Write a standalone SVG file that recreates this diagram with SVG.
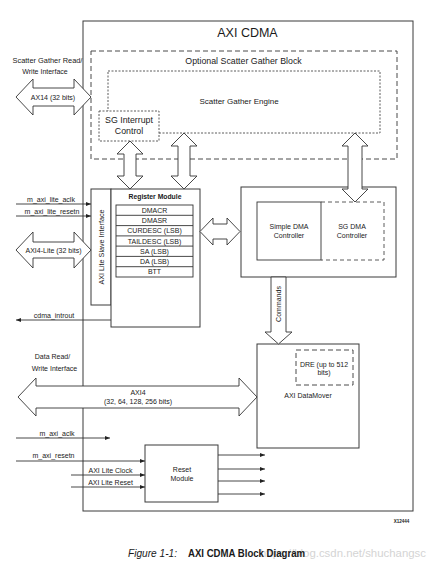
<svg xmlns="http://www.w3.org/2000/svg" width="441" height="565" viewBox="0 0 441 565">
<defs>
<style>
text{font-family:"Liberation Sans",Arial,sans-serif;fill:#1a1a1a}
.t7{font-size:7px}
.box{fill:#fff;stroke:#3a3a3a;stroke-width:1}
.dash{fill:none;stroke:#4a4a4a;stroke-width:1;stroke-dasharray:5,3}
.dot{fill:none;stroke:#4a4a4a;stroke-width:0.9;stroke-dasharray:2,1.5}
.arr{fill:#fff;stroke:#333;stroke-width:0.9;stroke-linejoin:miter}
.ln{fill:none;stroke:#333;stroke-width:0.9}
.m{text-anchor:middle}
</style>
<marker id="ah" markerUnits="userSpaceOnUse" markerWidth="6" markerHeight="4" refX="5" refY="2" orient="auto">
<path d="M0,0 L5,2 L0,4 Z" fill="#222"/>
</marker>
</defs>
<rect width="441" height="565" fill="#fff"/>

<g id="cdma">
<rect class="box" x="83" y="21" width="330" height="490" fill="none"/>
<text x="247.5" y="36.5" class="m" style="font-size:12.5px">AXI CDMA</text>
</g>

<g id="sg-block">
<rect class="dash" x="91" y="51" width="306" height="108"/>
<text x="243.5" y="63.5" class="m" style="font-size:8.8px">Optional Scatter Gather Block</text>
</g>

<g id="sg-engine">
<rect class="dot" x="108" y="71" width="272" height="62"/>
<text x="239" y="104" class="m" style="font-size:8px">Scatter Gather Engine</text>
</g>

<g id="sg-interrupt">
<rect x="99" y="111" width="60" height="30" fill="#fff" stroke="#4a4a4a" stroke-width="0.9" stroke-dasharray="2,1.5"/>
<text x="129" y="123" class="m" style="font-size:8.8px">SG Interrupt</text>
<text x="129" y="134" class="m" style="font-size:8.8px">Control</text>
</g>

<g id="slave-if">
<rect class="box" x="91" y="189" width="20" height="116"/>
<text transform="translate(103.5,247) rotate(-90)" class="m" style="font-size:7.2px">AXI Lite Slave Interface</text>
</g>

<g id="register-module">
<rect class="box" x="111" y="189" width="89" height="138"/>
<text x="155" y="198.5" class="m" style="font-size:6.8px;font-weight:bold">Register Module</text>
<rect x="116" y="205" width="77" height="72" fill="#fff" stroke="#333" stroke-width="0.9"/>
<path class="ln" d="M116,215.3H193M116,225.6H193M116,235.9H193M116,246.1H193M116,256.4H193M116,266.7H193"/>
<text x="154.5" y="212.6" class="m t7">DMACR</text>
<text x="154.5" y="222.9" class="m t7">DMASR</text>
<text x="154.5" y="233.2" class="m t7">CURDESC (LSB)</text>
<text x="154.5" y="243.5" class="m t7">TAILDESC (LSB)</text>
<text x="154.5" y="253.8" class="m t7">SA (LSB)</text>
<text x="154.5" y="264.1" class="m t7">DA (LSB)</text>
<text x="154.5" y="274.4" class="m t7">BTT</text>
</g>

<g id="dma-controller">
<rect class="box" x="241" y="187" width="155" height="90"/>
<rect x="257" y="202" width="64" height="58" fill="none" stroke="#333" stroke-width="0.9"/>
<path d="M321,202H384V260H321" fill="none" stroke="#4a4a4a" stroke-width="0.9" stroke-dasharray="4,3"/>
<text x="289" y="229" class="m t7">Simple DMA</text>
<text x="289" y="238" class="m t7">Controller</text>
<text x="352" y="229" class="m t7">SG DMA</text>
<text x="352" y="238" class="m t7">Controller</text>
</g>

<g id="datamover">
<rect class="box" x="257" y="344" width="102" height="104"/>
<rect class="dash" x="296" y="350" width="57" height="35"/>
<text x="324" y="367" class="m t7">DRE (up to 512</text>
<text x="324" y="374.5" class="m t7">bits)</text>
<text x="308" y="398" class="m t7">AXI DataMover</text>
</g>

<g id="reset-module">
<rect class="box" x="145" y="445" width="73" height="57"/>
<text x="182" y="472" class="m t7">Reset</text>
<text x="182" y="481" class="m t7">Module</text>
</g>

<g id="connectors">
<path class="arr" d="M16,97 L33,79 L33,88 L74,88 L74,79 L91,97 L74,115 L74,106 L33,106 L33,115 Z"/>
<path class="arr" d="M16,250 L33,232 L33,242 L74,242 L74,232 L91,250 L74,268 L74,258 L33,258 L33,268 Z"/>
<path class="arr" d="M200,231.5 L213,218 L213,224 L227,224 L227,218 L240,231.5 L227,245 L227,239 L213,239 L213,245 Z"/>
<path class="arr" d="M18,397 L36,378 L36,386 L239,386 L239,378 L257,397 L239,416 L239,408 L36,408 L36,416 Z"/>
<path class="arr" d="M130,141 L143,154 L136,154 L136,176 L143,176 L130,189 L117,176 L124,176 L124,154 L117,154 Z"/>
<path class="arr" d="M184,133 L197,146 L190,146 L190,176 L197,176 L184,189 L171,176 L178,176 L178,146 L171,146 Z"/>
<path class="arr" d="M355,133 L368,146 L362,146 L362,189 L368,189 L355,202 L342,189 L348,189 L348,146 L342,146 Z"/>
<path class="arr" d="M271,277 L286,277 L286,332 L292,332 L278.5,344 L265,332 L271,332 Z"/>
<line class="ln" x1="16" y1="204" x2="91" y2="204" marker-end="url(#ah)"/>
<line class="ln" x1="16" y1="216" x2="91" y2="216" marker-end="url(#ah)"/>
<line class="ln" x1="111" y1="320" x2="16" y2="320" marker-end="url(#ah)"/>
<line class="ln" x1="16" y1="438" x2="110" y2="438" marker-end="url(#ah)"/>
<line class="ln" x1="16" y1="461" x2="145" y2="461" marker-end="url(#ah)"/>
<line class="ln" x1="71" y1="475" x2="145" y2="475" marker-end="url(#ah)"/>
<line class="ln" x1="71" y1="487" x2="145" y2="487" marker-end="url(#ah)"/>
<line class="ln" x1="218" y1="455" x2="265" y2="455" marker-end="url(#ah)"/>
<line class="ln" x1="218" y1="469" x2="265" y2="469" marker-end="url(#ah)"/>
<line class="ln" x1="218" y1="481" x2="265" y2="481" marker-end="url(#ah)"/>
<line class="ln" x1="218" y1="494" x2="265" y2="494" marker-end="url(#ah)"/>
</g>

<g id="labels">
<text x="47.5" y="62.5" class="m" style="font-size:7.4px">Scatter Gather Read/</text>
<text x="45" y="73.5" class="m t7">Write Interface</text>
<text x="53" y="99.5" class="m t7">AX14 (32 bits)</text>
<text x="51" y="201.5" class="m t7">m_axi_lite_aclk</text>
<text x="52" y="213.5" class="m t7">m_axi_lite_resetn</text>
<text x="53.5" y="252.5" class="m t7">AXI4-Lite (32 bits)</text>
<text x="54" y="317.5" class="m t7">cdma_introut</text>
<text transform="translate(281,304) rotate(-90)" class="m t7">Commands</text>
<text x="52.5" y="359" class="m t7">Data Read/</text>
<text x="54.5" y="371" class="m t7">Write Interface</text>
<text x="138" y="394.5" class="m t7">AXI4</text>
<text x="138" y="403.5" class="m t7">(32, 64, 128, 256 bits)</text>
<text x="57" y="436" class="m t7">m_axi_aclk</text>
<text x="53.5" y="458" class="m t7">m_axi_resetn</text>
<text x="110.5" y="472.5" class="m t7">AXI Lite Clock</text>
<text x="110.5" y="484.5" class="m t7">AXI Lite Reset</text>
<text x="401.5" y="522.5" class="m" style="font-size:4.5px;font-weight:bold">X12444</text>
<text x="260" y="557" textLength="166" lengthAdjust="spacingAndGlyphs" style="font-size:11.4px;fill:#d4d4d4">https://blog.csdn.net/shuchangsc</text>
<text x="128" y="557" textLength="49" lengthAdjust="spacingAndGlyphs" style="font-size:10px;font-style:italic">Figure 1-1:</text>
<text x="188" y="557" textLength="117" lengthAdjust="spacingAndGlyphs" style="font-size:10px;font-weight:bold">AXI CDMA Block Diagram</text>
</g>
</svg>
